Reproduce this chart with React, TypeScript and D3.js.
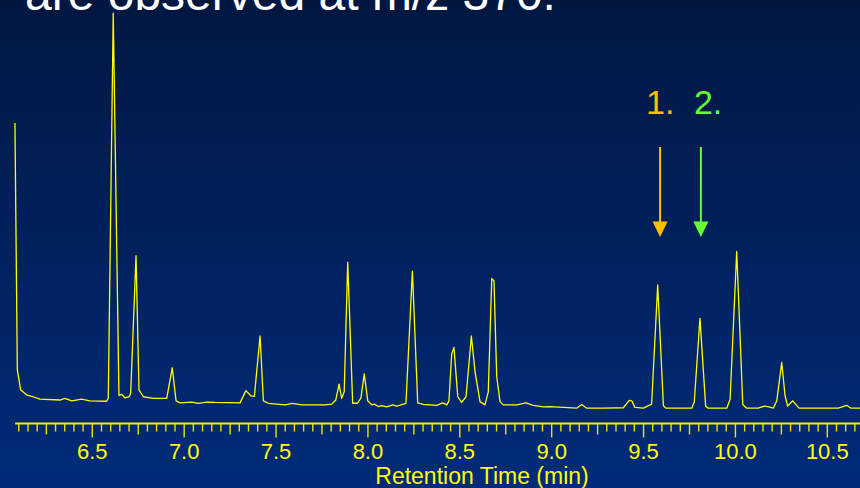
import React, { useEffect, useRef } from "react";
import * as d3 from "d3";

const width = 860;
const height = 488;

// retention time (min) and relative abundance (%)
const times = [
  6.079, 6.092, 6.11, 6.143, 6.177, 6.215, 6.324, 6.351, 6.388, 6.442, 6.487,
  6.578, 6.587, 6.614, 6.645, 6.66, 6.678, 6.701, 6.709, 6.738, 6.754, 6.778,
  6.832, 6.905, 6.935, 6.956, 6.977, 7.041, 7.077, 7.123, 7.168, 7.304, 7.336,
  7.364, 7.382, 7.413, 7.431, 7.458, 7.549, 7.588, 7.64, 7.712, 7.766, 7.803,
  7.825, 7.843, 7.857, 7.871, 7.89, 7.917, 7.944, 7.962, 7.98, 7.999, 8.021,
  8.035, 8.056, 8.075, 8.102, 8.135, 8.157, 8.207, 8.242, 8.271, 8.301, 8.338,
  8.374, 8.407, 8.429, 8.441, 8.456, 8.468, 8.489, 8.51, 8.534, 8.563, 8.583,
  8.61, 8.637, 8.655, 8.674, 8.686, 8.701, 8.719, 8.737, 8.81, 8.86, 8.9,
  8.954, 8.991, 9.063, 9.136, 9.163, 9.191, 9.281, 9.39, 9.422, 9.436, 9.453,
  9.499, 9.544, 9.577, 9.608, 9.621, 9.762, 9.776, 9.807, 9.838, 9.852, 9.953,
  9.971, 10.007, 10.04, 10.061, 10.124, 10.157, 10.183, 10.206, 10.225,
  10.252, 10.27, 10.284, 10.312, 10.346, 10.56, 10.606, 10.629, 10.678,
];
const abundance = [
  72.8, 12.3, 7.4, 6.1, 5.7, 5.1, 4.9, 5.3, 4.7, 5.1, 4.7, 4.6, 5.4, 99.7, 6.0,
  6.3, 5.4, 5.7, 6.6, 40.3, 7.4, 5.7, 5.3, 5.3, 12.8, 4.7, 4.2, 4.4, 4.1, 4.4,
  4.3, 4.2, 7.2, 5.9, 5.8, 20.6, 4.7, 4.1, 3.7, 4.1, 3.7, 3.7, 3.7, 3.9, 4.9,
  8.8, 5.3, 6.9, 38.7, 4.1, 4.1, 5.4, 11.3, 4.7, 3.7, 3.9, 3.3, 3.5, 3.2, 3.7,
  3.4, 4.1, 36.5, 4.2, 3.8, 3.7, 3.6, 4.2, 3.7, 4.7, 16.2, 17.8, 5.7, 4.3, 5.7,
  20.6, 11.8, 4.5, 3.7, 6.9, 34.7, 34.1, 10.6, 4.5, 3.7, 3.7, 4.2, 3.6, 3.2,
  3.3, 3.1, 2.9, 3.8, 2.9, 2.9, 3.0, 4.8, 4.7, 3.1, 2.9, 3.9, 33.1, 3.5, 2.9,
  2.9, 4.4, 24.9, 3.4, 2.9, 2.9, 5.1, 41.3, 3.8, 2.9, 2.9, 3.4, 3.2, 2.9, 4.7,
  14.1, 6.0, 3.4, 4.7, 2.9, 2.9, 3.6, 2.9, 2.9,
];

const tickLabels = [6.5, 7.0, 7.5, 8.0, 8.5, 9.0, 9.5, 10.0, 10.5];
const markerLabels = ["1.", "2."];
const markerTimes = [9.59, 9.812];
const markerColors = ["#ffc000", "#66ff33"];
// label offset from its arrow, in px
const labelDx = [-14, -7];

function Chromatogram() {
  const ref = useRef<SVGSVGElement>(null);

  useEffect(() => {
    const svg = d3.select(ref.current);
    svg.selectAll("*").remove();

    const font = "'Liberation Sans', Arial, sans-serif";
    const x = d3.scaleLinear().domain([6.5, 10.5]).range([92.3, 827.3]);
    const y = d3.scaleLinear().domain([0, 100]).range([420, 12]);

    const defs = svg.append("defs");
    const grad = defs
      .append("linearGradient")
      .attr("id", "bg")
      .attr("x1", 0)
      .attr("y1", 0)
      .attr("x2", 0)
      .attr("y2", 1);
    grad.append("stop").attr("offset", "0%").attr("stop-color", "#011740");
    grad.append("stop").attr("offset", "100%").attr("stop-color", "#012b7a");

    svg
      .append("rect")
      .attr("width", width)
      .attr("height", height)
      .attr("fill", "url(#bg)");

    // title is cut off by the top edge, as in the slide
    svg
      .append("text")
      .text("are observed at m/z 370.")
      .attr("x", 25)
      .attr("y", 10)
      .attr("fill", "#ffffff")
      .attr("font-family", font)
      .attr("font-size", "48px");

    // trace
    const points: [number, number][] = times.map((t, i) => [t, abundance[i]]);
    const line = d3
      .line<[number, number]>()
      .x((d) => x(d[0]))
      .y((d) => y(d[1]));

    svg
      .append("path")
      .attr("d", line(points))
      .attr("fill", "none")
      .attr("stroke", "#ffff00")
      .attr("stroke-width", 1.3)
      .attr("stroke-linejoin", "round");

    // axis
    const axisY = 423.5;
    const axis = svg.append("g").attr("transform", `translate(0, ${axisY})`);
    axis
      .append("line")
      .attr("x1", x(6.08))
      .attr("x2", width)
      .attr("stroke", "#f2f200")
      .attr("stroke-width", 2.2);

    const ticks = d3.range(122, 215).map((k) => k / 20);
    axis
      .selectAll(".tick")
      .data(ticks)
      .enter()
      .append("line")
      .attr("x1", (d) => x(d))
      .attr("x2", (d) => x(d))
      .attr("y1", 0)
      .attr("y2", (d, i) => {
        const k = i + 122;
        if (k % 10 === 0) return 14;
        if (k % 5 === 0) return 11;
        return 8;
      })
      .attr("stroke", "#e6e600")
      .attr("stroke-width", 1.4);

    axis
      .selectAll(".label")
      .data(tickLabels)
      .enter()
      .append("text")
      .text((d) => d.toFixed(1))
      .attr("x", (d) => x(d))
      .attr("y", 35)
      .attr("text-anchor", "middle")
      .attr("fill", "#ffff00")
      .attr("font-family", font)
      .attr("font-size", "22px");

    svg
      .append("text")
      .text("Retention Time (min)")
      .attr("x", 482)
      .attr("y", 484)
      .attr("text-anchor", "middle")
      .attr("fill", "#ffff00")
      .attr("font-family", font)
      .attr("font-size", "23px");

    // peak markers
    const markers = svg
      .selectAll(".marker")
      .data(markerTimes)
      .enter()
      .append("g");

    markers
      .append("line")
      .attr("x1", (d) => x(d))
      .attr("x2", (d) => x(d))
      .attr("y1", 147)
      .attr("y2", 223)
      .attr("stroke", (_, i) => markerColors[i])
      .attr("stroke-width", 2);

    markers
      .append("path")
      .attr(
        "d",
        (d) =>
          `M${x(d) - 7.5},221.5 L${x(d) + 7.5},221.5 L${x(d)},237 Z`
      )
      .attr("fill", (_, i) => markerColors[i]);

    markers
      .append("text")
      .text((_, i) => markerLabels[i])
      .attr("x", (d, i) => x(d) + labelDx[i])
      .attr("y", 113.5)
      .attr("fill", (_, i) => markerColors[i])
      .attr("font-family", font)
      .attr("font-size", "34px");
  }, []);

  return (
    <svg
      ref={ref}
      width={width}
      height={height}
      style={{ position: "absolute", left: 0, top: 0, display: "block" }}
    />
  );
}

export default function App() {
  return <Chromatogram />;
}
